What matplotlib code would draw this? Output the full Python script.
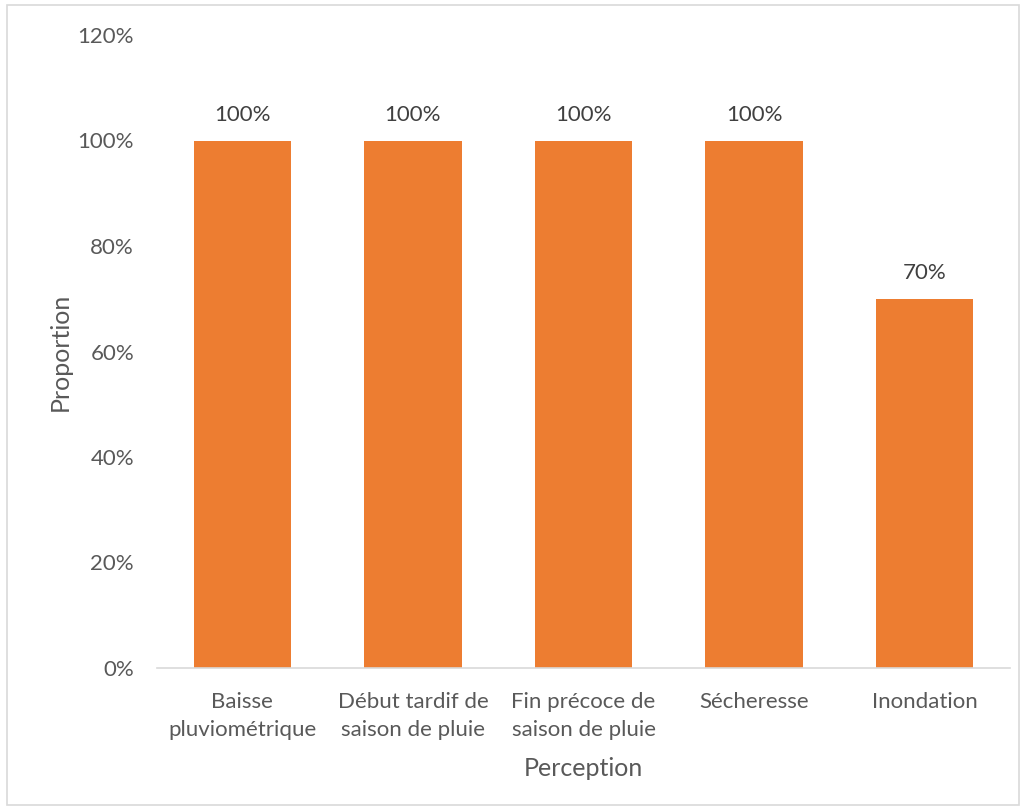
import matplotlib
matplotlib.use("Agg")
import matplotlib.pyplot as plt
from matplotlib.patches import Rectangle
from matplotlib.ticker import PercentFormatter

categories = ["Baisse\npluviométrique", "Début tardif de\nsaison de pluie",
              "Fin précoce de\nsaison de pluie", "Sécheresse", "Inondation"]
values = [100, 100, 100, 100, 70]
y_ticks = [0, 20, 40, 60, 80, 100, 120]

plt.rcParams["font.family"] = ["Lato", "DejaVu Sans"]
text_color = "#595959"

fig = plt.figure(figsize=(10.24, 8.1), dpi=100)
ax = fig.add_axes([157 / 1024, (810 - 668) / 810, 853 / 1024, 633 / 810])

x = range(len(categories))
bars = ax.bar(x, values, width=0.57, color="#ED7D31")
for b, v in zip(bars, values):
    ax.text(b.get_x() + b.get_width() / 2, v + 3, f"{v}%", ha="center",
            va="bottom", fontsize=16, color="#404040")

ax.set_xlim(-0.5, len(categories) - 0.5)
ax.set_ylim(0, 120)
ax.set_yticks(y_ticks)
ax.yaxis.set_major_formatter(PercentFormatter(decimals=0))
ax.set_xticks(list(x))
ax.set_xticklabels(categories, fontsize=16, color=text_color, linespacing=1.55)
ax.tick_params(axis="y", labelsize=16, labelcolor=text_color, length=0, pad=16.5)
ax.tick_params(axis="x", length=0, pad=17)

for side in ["top", "right", "left"]:
    ax.spines[side].set_visible(False)
ax.spines["bottom"].set_color("#D9D9D9")
ax.spines["bottom"].set_linewidth(1.2)

ax.set_ylabel("Proportion", fontsize=18, color=text_color, labelpad=4)
ax.set_xlabel("Perception", fontsize=18, color=text_color, labelpad=12)

fig.patches.append(Rectangle((7 / 1024, 5 / 810), 1012 / 1024, 800 / 810,
                             transform=fig.transFigure, fill=False,
                             edgecolor="#D9D9D9", linewidth=1.2))

fig.savefig("out.png", dpi=100)
